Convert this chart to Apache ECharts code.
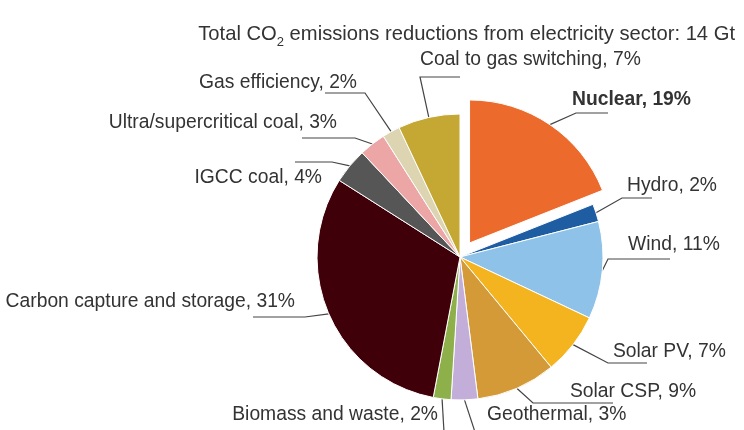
<!DOCTYPE html>
<html><head><meta charset="utf-8">
<script src="https://cdn.jsdelivr.net/npm/echarts@6/dist/echarts.min.js"></script>
<style>html,body{margin:0;padding:0;background:#fff}#c{width:744px;height:430px}</style>
</head><body><div id="c"></div>
<script>
var categories = ['Nuclear','Hydro','Wind','Solar PV','Solar CSP','Geothermal','Biomass and waste','Carbon capture and storage','IGCC coal','Ultra/supercritical coal','Gas efficiency','Coal to gas switching'];
var shares = [19, 2, 11, 7, 9, 3, 2, 31, 4, 3, 2, 7];
var colors = ['#EC6A2C','#1F5DA3','#8FC2E9','#F4B41F','#D39A37','#C2AED8','#8DB04B','#40000A','#565656','#ECA6A6','#DDD4B2','#C4A833'];
// label placement: [textX, textY, align, elbowX, elbowY, endX]
var labelSpots = [
  [572, 100, 'left', 576, 113, 608],
  [627, 186, 'left', 622, 198, 652],
  [628, 245, 'left', 608, 259, 670],
  [613, 352, 'left', 608, 363, 647],
  [570, 392, 'left', 533, 403, 613],
  [487, 415, 'left', 475, 432, 475],
  [438, 415, 'right', 444, 432, 444],
  [295, 302, 'right', 305, 317, 253],
  [322, 178, 'right', 332, 162, 295],
  [337, 123, 'right', 355, 138, 302],
  [357, 83, 'right', 365, 93, 325],
  [420, 60, 'left', 420, 77, 460]
];
var FONT = '"Liberation Sans", Arial, sans-serif';
var CX = 460, CY = 257, R = 143, EXPLODE = 17;
var total = shares.reduce(function (a, b) { return a + b; }, 0);
var midAng = shares[0] / total * Math.PI; // mid angle of first slice, from 12 o'clock
var explodedCenter = [CX + EXPLODE * Math.sin(midAng), CY - EXPLODE * Math.cos(midAng)];

var hidden = {itemStyle: {color: 'rgba(0,0,0,0)', borderWidth: 0}, label: {show: false}, labelLine: {show: false}};
var dataA = [
  {name: categories[0], value: shares[0], itemStyle: {color: colors[0]}, label: {fontWeight: 'bold'}},
  Object.assign({name: '_rest', value: total - shares[0]}, hidden)
];
var dataB = categories.map(function (n, i) {
  if (i === 0) return Object.assign({name: '_gap', value: shares[0]}, hidden);
  return {name: n, value: shares[i], itemStyle: {color: colors[i]}};
});
function layoutFor(offset) {
  return function (p) {
    var s = labelSpots[p.dataIndex + offset];
    if (!s) return {};
    var st = p.labelLinePoints ? p.labelLinePoints[0] : [s[3], s[4]];
    return {
      x: s[0], y: s[1], align: s[2], verticalAlign: 'middle',
      labelLinePoints: [st, [s[3], s[4]], [s[5], s[4]]]
    };
  };
}
var common = {
  type: 'pie', radius: R, startAngle: 90, clockwise: true,
  avoidLabelOverlap: false, silent: true,
  itemStyle: {borderColor: '#fff', borderWidth: 1},
  label: {
    show: true, position: 'outside',
    formatter: function (p) { return p.name + ', ' + p.value + '%'; },
    fontFamily: FONT, fontSize: 19.3, color: '#333'
  },
  labelLine: {show: true, length: 10, length2: 10, lineStyle: {color: '#444', width: 1.2}},
  emphasis: {disabled: true}
};
var chart = echarts.init(document.getElementById('c'), null, {renderer: 'canvas'});
chart.setOption({
  backgroundColor: '#fff',
  animation: false,
  title: {
    text: '{a|Total CO}{s|2}{a| emissions reductions from electricity sector: 14 Gt}',
    right: 4, top: 14,
    textStyle: {
      fontWeight: 'normal',
      rich: {
        a: {fontFamily: FONT, fontSize: 20.2, fontWeight: 'normal', color: '#333', lineHeight: 26},
        s: {fontFamily: FONT, fontSize: 13, fontWeight: 'normal', color: '#333', lineHeight: 30, verticalAlign: 'bottom'}
      }
    }
  },
  series: [
    Object.assign({}, common, {center: [CX, CY], data: dataB, labelLayout: layoutFor(0)}),
    Object.assign({}, common, {center: explodedCenter, data: dataA, labelLayout: layoutFor(0)})
  ]
});
</script></body></html>
